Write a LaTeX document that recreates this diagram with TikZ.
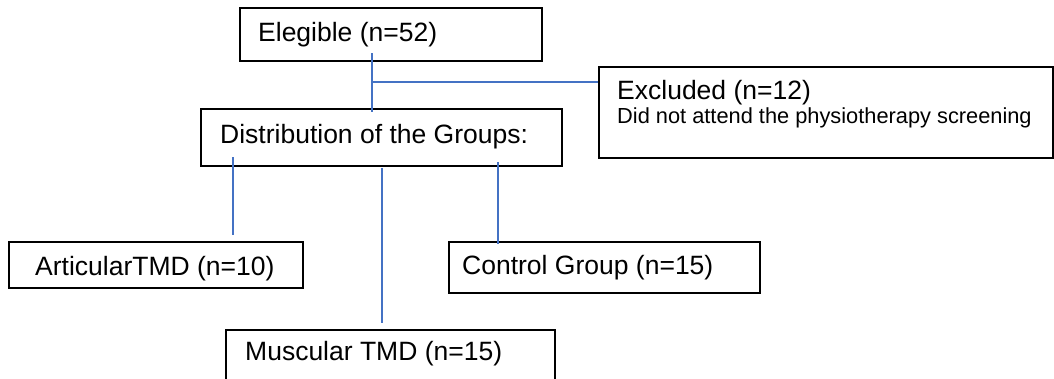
\documentclass[tikz,border=0pt]{standalone}
\usepackage{fontspec}
\setmainfont{Liberation Sans}
\begin{document}
\begin{tikzpicture}[x=1pt,y=-1pt,
  box/.style={draw=black, line width=1.6pt, inner sep=0pt, anchor=north west},
  big/.style={anchor=base west, inner sep=0pt, font=\fontsize{26.5}{30}\selectfont},
  small/.style={anchor=base west, inner sep=0pt, font=\fontsize{21.8}{25}\selectfont},
  link/.style={draw={rgb,255:red,68;green,114;blue,196}, line width=1.4pt}]
\useasboundingbox (0,0) rectangle (1054,378);
\clip (0,0) rectangle (1054,378);
% boxes
\node[box, minimum width=302pt, minimum height=53pt] (elig) at (239,7) {};
\node[box, minimum width=361pt, minimum height=57pt] (dist) at (200,108) {};
\node[box, minimum width=454pt, minimum height=91pt] (excl) at (598,66) {};
\node[box, minimum width=294pt, minimum height=46pt] (art) at (8,241) {};
\node[box, minimum width=311pt, minimum height=51pt] (ctrl) at (448,241) {};
\node[box, minimum width=329pt, minimum height=70pt] (musc) at (225,329) {};
% texts
\node[big] (teli) at (258,41.7) {Elegible (n=52)};
\node[big] (tdis) at (220,143) {Distribution of the Groups:};
\node[big] (texc) at (617,99) {Excluded (n=12)};
\node[small] (texc2) at (617,123) {Did not attend the physiotherapy screening};
\node[big] (tart) at (35,275) {ArticularTMD (n=10)};
\node[big] (tctl) at (462,274) {Control Group (n=15)};
\node[big] (tmus) at (245,360) {Muscular TMD (n=15)};
% connector end points
\coordinate (e1) at (372,53);
\coordinate (e2) at (372,112);
\coordinate (e3) at (373,82);
\coordinate (e4) at (excl.west |- e3);
\coordinate (a1) at (233,157);
\coordinate (a2) at (233,235);
\coordinate (m1) at (382,168);
\coordinate (m2) at (382,323);
\coordinate (c1) at (498,162);
\coordinate (c2) at (498,244);
% connectors
\draw[link] (e1) -- (e2);
\draw[link] (e3) -- (e4);
\draw[link] (a1) -- (a2);
\draw[link] (m1) -- (m2);
\draw[link] (c1) -- (c2);
\end{tikzpicture}
\end{document}
